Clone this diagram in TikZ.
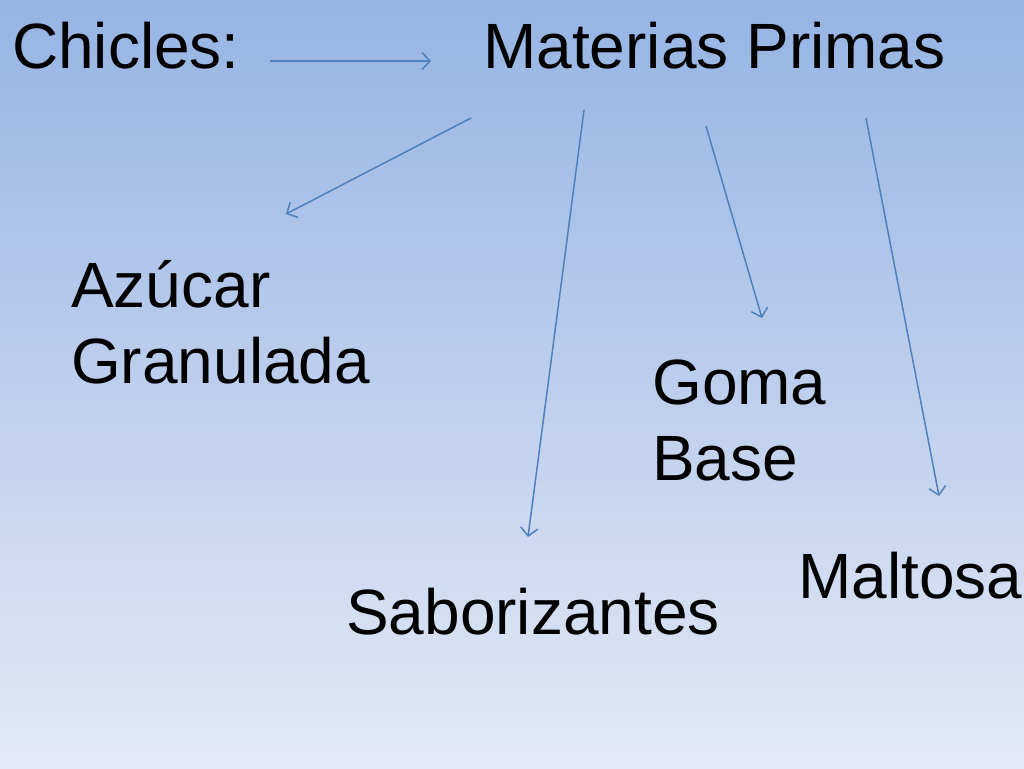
\documentclass[tikz,border=0pt]{standalone}
\usepackage{fontspec}
\setmainfont{Liberation Sans}
\usepackage{tikz}
\usetikzlibrary{arrows.meta}
\usetikzlibrary{positioning}
\usepackage{xcolor}
\definecolor{bgtop}{RGB}{150,180,228}
\definecolor{bgbottom}{RGB}{227,233,246}
\definecolor{arrowblue}{RGB}{79,129,189}

\begin{document}
\begin{tikzpicture}[x=1pt,y=-1pt,
  word/.style={anchor=base west,inner sep=0pt,align=left,
    font=\fontsize{64}{76}\selectfont},
  link/.style={draw=arrowblue,line width=1.5pt,
    -{Straight Barb[length=8pt,width=17pt,line width=1.5pt]}}]
\shade[top color=bgtop,bottom color=bgbottom] (0,0) rectangle (1024,768);
\useasboundingbox (0,0) rectangle (1024,768);
\node[word] (chicles) at (12,68) {Chicles:};
\node[word] (materias) at (483,68) {Materias Primas};
\node[word] (azucar) at (71,383) {Azúcar\\Granulada};
\node[word] (goma) at (652,480) {Goma\\Base};
\node[word] (maltosa) at (798,598) {Maltosa};
\node[word] (sabor) at (346,634) {Saborizantes};
\coordinate (c0) at (270,61);
\coordinate (c1) at (431,61);
\coordinate (a0) at (471,118);
\coordinate (a1) at (286,214);
\coordinate (s0) at (584,110);
\coordinate (s1) at (528,537);
\coordinate (g0) at (706,126);
\coordinate (g1) at (762,318);
\coordinate (m0) at (866,118);
\coordinate (m1) at (939,496);
\draw[link] (c0)--(c1);
\draw[link] (a0)--(a1);
\draw[link] (s0)--(s1);
\draw[link] (g0)--(g1);
\draw[link] (m0)--(m1);
\end{tikzpicture}
\end{document}
